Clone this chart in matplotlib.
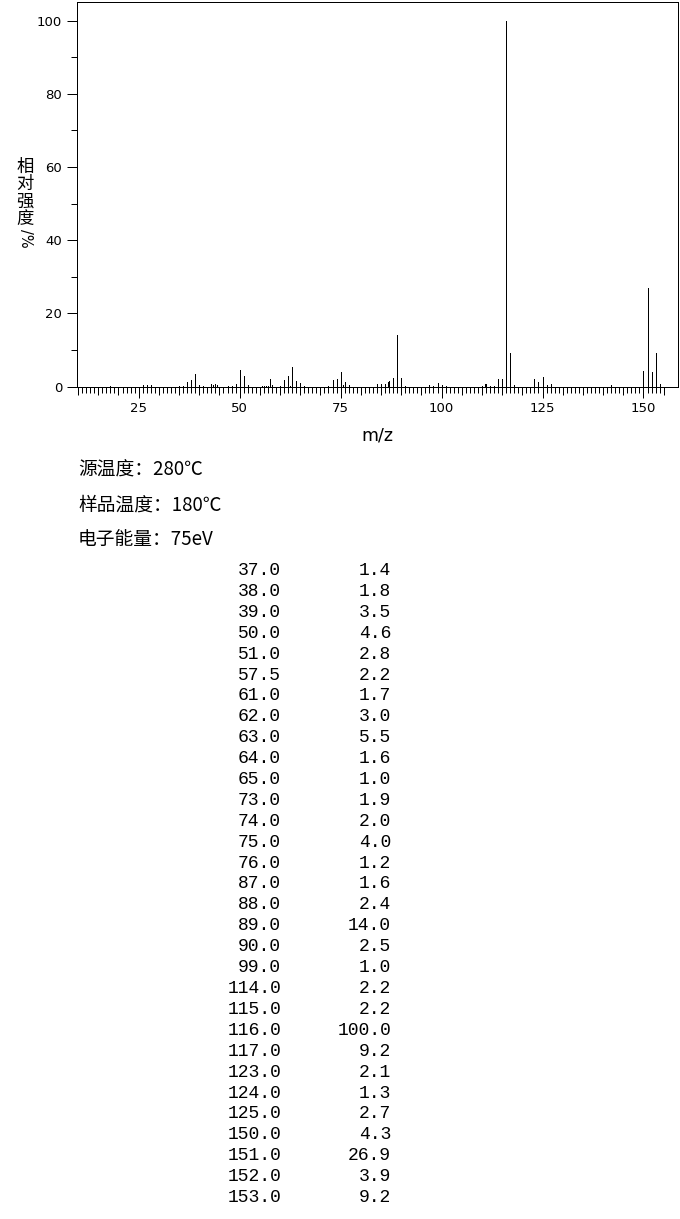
import matplotlib
matplotlib.use("Agg")
import matplotlib.pyplot as plt

# 質譜峰（表中列出的 >=1% 峰）
peak_mz = [37, 38, 39, 50, 51, 57.5, 61, 62, 63, 64, 65, 73, 74, 75, 76,
           87, 88, 89, 90, 99, 114, 115, 116, 117, 123, 124, 125,
           150, 151, 152, 153]
peak_int = [1.4, 1.8, 3.5, 4.6, 2.8, 2.2, 1.7, 3.0, 5.5, 1.6, 1.0, 1.9, 2.0, 4.0, 1.2,
            1.6, 2.4, 14.0, 2.5, 1.0, 2.2, 2.2, 100.0, 9.2, 2.1, 1.3, 2.7,
            4.3, 26.9, 3.9, 9.2]

# 小峰（圖上可見，表中未列）
minor_mz = [18, 26, 27, 28, 35, 36, 40, 41, 43, 43.5, 44, 44.5, 47, 48, 49, 52,
            55.5, 56, 56.5, 57, 58, 60, 62.5, 66, 72, 75.5, 77, 84, 85, 86, 86.75,
            91, 97, 98, 100, 101, 110, 110.75, 111, 112, 113, 118, 126, 127, 142, 154]
minor_int = [0.3, 0.55, 0.55, 0.55, 0.3, 0.3, 0.55, 0.3, 0.8, 0.45, 0.8, 0.55, 0.3, 0.3, 0.8, 0.55,
             0.3, 0.3, 0.3, 0.3, 0.55, 0.3, 0.3, 0.3, 0.3, 0.55, 0.55, 0.7, 0.8, 0.8, 1.4,
             0.3, 0.55, 0.3, 0.55, 0.3, 0.3, 0.8, 0.8, 0.3, 0.3, 0.55, 0.55, 0.7, 0.35, 0.8]

info_lines = ["源温度：280℃", "样品温度：180℃", "电子能量：75eV"]

W, H = 680, 1219
LW = 0.72  # 1 px
fig = plt.figure(figsize=(W / 100, H / 100), dpi=100)
ax = fig.add_axes([77.3 / W, 1 - 386.7 / H, (677.8 - 77.3) / W, (386.7 - 2.3) / H])

ax.vlines(minor_mz, 0, minor_int, colors="black", linewidth=LW, antialiased=False)
ax.vlines(peak_mz, 0, peak_int, colors="black", linewidth=LW, antialiased=False)

ax.set_xlim(9.8, 158.5)
ax.set_ylim(0, 105)

for s in ax.spines.values():
    s.set_linewidth(LW)

ax.set_xticks(range(25, 151, 25))
ax.set_xticks(range(10, 156), minor=True)
ax.set_yticks(range(0, 101, 20))
ax.set_yticks(range(10, 100, 20), minor=True)
ax.tick_params(which="both", direction="out", width=LW, color="black", labelsize=9.5)
ax.tick_params(axis="x", which="major", length=7.9, pad=3)
ax.tick_params(axis="x", which="minor", length=4.3)
ax.tick_params(axis="y", which="major", length=7.4, pad=3.5)
ax.tick_params(axis="y", which="minor", length=4.6)

# 每 5 個單位的中長刻度
sec = ax.secondary_xaxis("bottom")
sec.set_xticks([v for v in range(10, 156, 5) if v % 25])
sec.set_xticklabels([])
sec.tick_params(direction="out", length=5.4, width=LW)
sec.spines["bottom"].set_visible(False)

fig.text(377 / W, 1 - 435 / H, "m/z", ha="center", va="center", fontsize=12.5,
         family="DejaVu Sans")

# 直排 y 軸標題
cjk = ["Noto Sans CJK SC", "DejaVu Sans"]
for ch, yy in zip("相对强度", [166.5, 184.0, 201.5, 219.0]):
    fig.text(25 / W, 1 - yy / H, ch, ha="center", va="center", fontsize=12.5, family=cjk)
fig.text(25 / W, 1 - 238 / H, "/%", ha="center", va="center", fontsize=10.5,
         rotation=-90, family="DejaVu Sans")

for i, line in enumerate(info_lines):
    fig.text(78 / W, 1 - (470.5 + 35 * i) / H, line, ha="left", va="center",
             fontsize=13.5, family=cjk)

for i, (m, v) in enumerate(zip(peak_mz, peak_int)):
    y = 1 - (570.5 + 20.9 * i) / H
    fig.text(281 / W, y, f"{m:.1f}", ha="right", va="center", fontsize=13,
             family="Liberation Mono")
    fig.text(391 / W, y, f"{v:.1f}", ha="right", va="center", fontsize=13,
             family="Liberation Mono")

fig.savefig("out.png", dpi=100)
